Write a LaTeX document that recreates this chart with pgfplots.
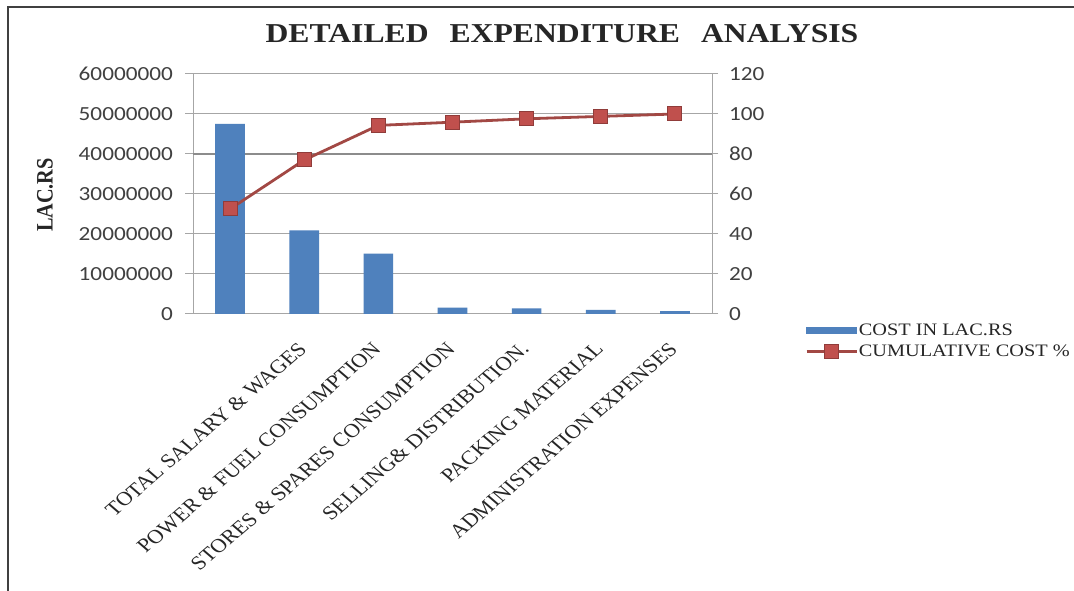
\documentclass[border=0pt]{standalone}
\usepackage{fontspec}
\usepackage{pgfplots}
\usepackage{pgfplotstable}
\pgfplotsset{compat=1.18}
\usepackage{graphicx}

\setmainfont{Liberation Serif}
\newfontfamily\serifwide[FakeStretch=1.16]{Liberation Serif}
\newfontfamily\tickfont[FakeStretch=1.16]{Carlito}

\definecolor{barblue}{HTML}{4F81BD}
\definecolor{cumred}{HTML}{C0504D}
\definecolor{cumline}{HTML}{A24844}
\definecolor{gridgray}{HTML}{A6A6A6}
\definecolor{framegray}{HTML}{404040}

% cost per head of expenditure and the running share of the total
\pgfplotstableread{
idx cost     cum
0   47500000 52.5
1   20900000 77.0
2   15100000 94.3
3   1600000  95.9
4   1400000  97.6
5   1000000  98.8
6   700000   100
}\expdata

\newcommand{\catlabel}[1]{\scalebox{1.16}[1]{\rotatebox{45}{\rmfamily\fontsize{19.5}{22}\selectfont #1}}}

\pgfplotsset{
  costlegend/.style={legend image code/.code={\fill[barblue] (0pt,-3pt) rectangle (50pt,3pt);}},
  cumlegend/.style={legend image code/.code={\draw[##1,mark repeat=2,mark phase=2] plot coordinates {(0pt,0pt) (25pt,0pt) (50pt,0pt)};}},
}

\begin{document}
\begin{tikzpicture}
\useasboundingbox (0pt,0pt) rectangle (1074pt,591pt);
\fill[white] (0pt,0pt) rectangle (1074pt,591pt);
\draw[framegray, line width=2pt] (8pt,0pt) -- (8pt,584pt) -- (1074pt,584pt);

\node[anchor=base, inner sep=0pt, text=black!85] at (562pt,548pt)
  {\serifwide\bfseries\fontsize{27.3}{30}\selectfont DETAILED\hspace{21pt}EXPENDITURE\hspace{21pt}ANALYSIS};

\node[inner sep=0pt, text=black!85] at (45pt,396pt)
  {\scalebox{1.16}[1]{\rotatebox{90}{\bfseries\fontsize{20.3}{24}\selectfont LAC.RS}}};

\begin{axis}[
  at={(193pt,277pt)}, anchor=south west,
  width=519pt, height=240pt, scale only axis,
  xmin=-0.5, xmax=6.5, ymin=0, ymax=60000000,
  axis x line*=bottom, axis y line*=left,
  axis line style={gridgray, line width=1pt},
  tick style={gridgray, line width=1pt},
  tick align=outside, major tick length=8pt,
  ytick={0,10000000,20000000,30000000,40000000,50000000,60000000},
  scaled y ticks=false,
  /pgf/number format/assume math mode=true,
  yticklabel style={font=\tickfont\fontsize{20}{24}\selectfont, text=black!75,
    /pgf/number format/fixed, /pgf/number format/precision=0,
    /pgf/number format/1000 sep={}, anchor=east, inner sep=0pt, xshift=-12pt},
  ymajorgrids, grid style={gridgray, line width=1pt},
  extra y ticks={40000000}, extra y tick labels={},
  extra y tick style={grid style={black!45, line width=1.6pt}, major tick length=0pt},
  xtick={0,1,2,3,4,5,6},
  x tick style={draw=none},
  xticklabels={{},
    {\catlabel{TOTAL SALARY \& WAGES}},
    {\catlabel{POWER \& FUEL CONSUMPTION}},
    {\catlabel{STORES \& SPARES CONSUMPTION}},
    {\catlabel{SELLING\& DISTRIBUTION.}},
    {\catlabel{PACKING MATERIAL}},
    {\catlabel{ADMINISTRATION EXPENSES}}},
  xticklabel style={anchor=north east, inner sep=0pt, text=black!85, xshift=4pt, yshift=-19pt},
]
\addplot[ybar, bar width=0.4, fill=barblue, draw=none] table[x=idx, y=cost] {\expdata};
\end{axis}

\begin{axis}[
  at={(193pt,277pt)}, anchor=south west,
  width=519pt, height=240pt, scale only axis,
  xmin=-0.5, xmax=6.5, ymin=0, ymax=120,
  axis y line*=right, axis x line=none,
  axis line style={gridgray, line width=1pt},
  tick style={gridgray, line width=1pt},
  tick align=outside, major tick length=6pt,
  ytick={0,20,40,60,80,100,120},
  /pgf/number format/assume math mode=true,
  yticklabel style={font=\tickfont\fontsize{20}{24}\selectfont, text=black!75,
    anchor=west, inner sep=0pt, xshift=11pt},
  legend cell align=left,
  legend style={draw=none, fill=none, at={(1.179,-0.035)}, anchor=north west,
    inner sep=0pt, row sep=6pt, text=black!85,
    font=\serifwide\fontsize{17.5}{20}\selectfont,
    nodes={inner sep=1pt},
    /tikz/every even column/.append style={column sep=2pt}},
]
\addlegendimage{costlegend}
\addlegendentry{COST IN LAC.RS}
\addplot[cumline, line width=2.8pt, mark=square*, mark size=7pt,
  mark options={fill=cumred, draw=cumred!75!black, line width=1pt}, cumlegend]
  table[x=idx, y=cum] {\expdata};
\addlegendentry{CUMULATIVE COST \%}
\end{axis}
\end{tikzpicture}
\end{document}
